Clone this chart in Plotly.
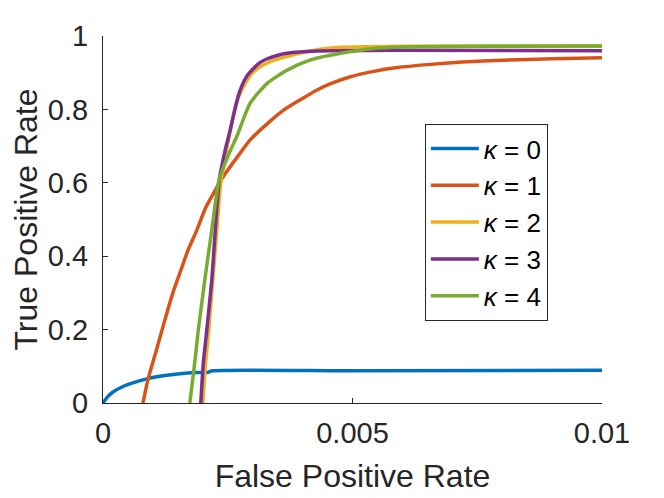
import plotly.graph_objects as go

# ROC curves, one per kappa
labels = ["<i>κ</i> = 0", "<i>κ</i> = 1", "<i>κ</i> = 2", "<i>κ</i> = 3", "<i>κ</i> = 4"]
colors = ["#0072BD", "#D95319", "#EDB120", "#7E2F8E", "#77AC30"]

fpr_k0 = [0, 0.0001, 0.0002, 0.0004, 0.0006, 0.0008, 0.0012, 0.0017, 0.0021, 0.0022, 0.005, 0.01]
tpr_k0 = [0, 0.018, 0.03, 0.045, 0.055, 0.063, 0.074, 0.082, 0.084, 0.088, 0.088, 0.089]

fpr_k1 = [0.0008, 0.0009, 0.00107, 0.00124, 0.0014, 0.00154, 0.0017, 0.00188, 0.00205,
          0.00225, 0.00241, 0.0027, 0.00295, 0.0033, 0.00362, 0.004, 0.00429, 0.0046,
          0.00496, 0.0054, 0.0059, 0.0065, 0.0072, 0.008, 0.009, 0.01]
tpr_k1 = [0, 0.063, 0.144, 0.226, 0.3, 0.354, 0.415, 0.471, 0.53,
          0.58, 0.617, 0.672, 0.717, 0.762, 0.798, 0.83, 0.853, 0.872,
          0.889, 0.903, 0.914, 0.922, 0.929, 0.934, 0.938, 0.941]

fpr_k2 = [0.002, 0.00205, 0.00212, 0.0022, 0.00228, 0.00236, 0.00245, 0.00261, 0.00272,
          0.00285, 0.00298, 0.00315, 0.00335, 0.00355, 0.00409, 0.00462, 0.006, 0.01]
tpr_k2 = [0, 0.1, 0.2, 0.335, 0.47, 0.6, 0.671, 0.78, 0.835,
          0.871, 0.897, 0.916, 0.93, 0.939, 0.958, 0.968, 0.972, 0.973]

fpr_k3 = [0.00196, 0.00201, 0.00208, 0.00218, 0.00225, 0.00233, 0.00245, 0.00255, 0.00265,
          0.00275, 0.00288, 0.00302, 0.00315, 0.00329, 0.00349, 0.00369, 0.00429, 0.006, 0.01]
tpr_k3 = [0, 0.108, 0.199, 0.335, 0.471, 0.608, 0.69, 0.744, 0.805,
          0.853, 0.89, 0.912, 0.928, 0.938, 0.947, 0.953, 0.959, 0.961, 0.96]

fpr_k4 = [0.00174, 0.00183, 0.00191, 0.00204, 0.00218, 0.00232, 0.00242, 0.00256, 0.00268,
          0.00295, 0.00329, 0.00369, 0.00416, 0.00476, 0.00543, 0.006, 0.0075, 0.01]
tpr_k4 = [0, 0.1, 0.199, 0.335, 0.471, 0.605, 0.645, 0.69, 0.726,
          0.817, 0.871, 0.907, 0.935, 0.953, 0.966, 0.97, 0.972, 0.973]

x_ticks = [0, 0.005, 0.01]
x_tick_text = ["0", "0.005", "0.01"]
y_ticks = [0, 0.2, 0.4, 0.6, 0.8, 1]
y_tick_text = ["0", "0.2", "0.4", "0.6", "0.8", "1"]

series = [(fpr_k0, tpr_k0), (fpr_k1, tpr_k1), (fpr_k2, tpr_k2),
          (fpr_k3, tpr_k3), (fpr_k4, tpr_k4)]

fig = go.Figure()
for (xs, ys), name, col in zip(series, labels, colors):
    fig.add_trace(go.Scatter(x=xs, y=ys, mode="lines", name=name,
                             line=dict(color=col, width=3.5, shape="spline", smoothing=0.6)))

font = "Liberation Sans, Arial, sans-serif"
ink = "#262626"

axis_common = dict(showline=True, linecolor=ink, linewidth=1, ticks="inside",
                   ticklen=5, tickcolor=ink, showgrid=False, zeroline=False,
                   automargin=False,
                   tickfont=dict(family=font, size=29, color=ink))

# the page body adds an 8px margin, so the figure is 8px smaller than the window
fig.update_layout(
    width=656, height=490,
    margin=dict(l=95, r=62, t=28, b=95),
    paper_bgcolor="white", plot_bgcolor="white",
    xaxis=dict(range=[0, 0.01], tickvals=x_ticks, ticktext=x_tick_text,
               ticklabelstandoff=4,
               title=dict(text="False Positive Rate", standoff=16,
                          font=dict(family=font, size=32, color=ink)),
               **axis_common),
    yaxis=dict(range=[0, 1], tickvals=y_ticks, ticktext=y_tick_text,
               ticklabelstandoff=8,
               title=dict(text="True Positive Rate", standoff=2,
                          font=dict(family=font, size=32, color=ink)),
               **axis_common),
    legend=dict(x=0.645, y=0.76, xanchor="left", yanchor="top",
                bgcolor="white", bordercolor="#262626", borderwidth=1,
                font=dict(family=font, size=26, color="black"),
                itemwidth=48, tracegroupgap=0),
    showlegend=True,
)

fig.write_html("out.html")
